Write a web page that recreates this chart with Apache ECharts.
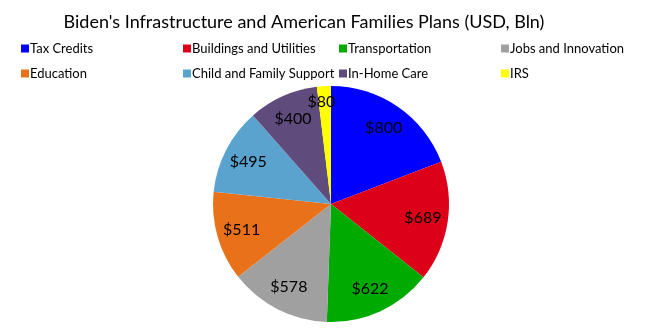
<!DOCTYPE html>
<html><head><meta charset="utf-8">
<script src="https://cdn.jsdelivr.net/npm/echarts@6/dist/echarts.min.js"></script>
<style>html,body{margin:0;padding:0;background:#fff}#c{width:645px;height:330px}</style>
</head><body><div id="c"></div>
<script>
const categories = ['Tax Credits','Buildings and Utilities','Transportation','Jobs and Innovation','Education','Child and Family Support','In-Home Care','IRS'];
const values = [800, 689, 622, 578, 511, 495, 400, 80];
const colors = ['#0000FF','#DC0019','#00AA00','#A0A0A0','#E8711A','#5BA3CF','#5F4B7C','#FFFF00'];
const titleText = "Biden's Infrastructure and American Families Plans (USD, Bln)";

const font = 'Lato, "Open Sans", sans-serif';
const data = categories.map((n,i)=>({name:n, value:values[i], itemStyle:{color:colors[i]}}));
const labelData = categories.map((n,i)=>{
  const d = {name:n, value:values[i], itemStyle:{color:'transparent'}};
  if (n === 'IRS') d.label = {offset:[-4,-9]};
  return d;
});

const cols = [[0,4],[1,5],[2,6],[3,7]];
const colLeft = [16, 178, 334, 496];
const legends = cols.map((c,k)=>({
  orient:'vertical', left: colLeft[k], top: 37, itemGap: 12,
  itemWidth: 8, itemHeight: 8, icon: 'rect',
  data: c.map(i=>categories[i]),
  textStyle:{fontFamily:font, fontSize:13, color:'#000', padding:[0,0,0,-4]},
  selectedMode:false
}));

const chart = echarts.init(document.getElementById('c'), null, {renderer:'canvas'});
chart.setOption({
  animation:false,
  color: colors,
  title:{text:titleText, left:299, textAlign:'center', top:8,
    textStyle:{fontFamily:font, fontSize:18, fontWeight:'normal', color:'#000'}},
  legend: legends,
  series:[
    {type:'pie', radius:[0,118], center:[331,204], startAngle:90, clockwise:true,
     data:data, label:{show:false}, labelLine:{show:false}, silent:true,
     itemStyle:{borderWidth:0}},
    {type:'pie', radius:[62,118], center:[331,204], startAngle:90, clockwise:true,
     data:labelData, silent:true, legendHoverLink:false,
     label:{show:true, position:'inside', formatter:p=>'$'+p.value,
       fontFamily:font, fontSize:16, color:'#000'},
     labelLine:{show:false}, itemStyle:{borderWidth:0}}
  ]
});
</script></body></html>
